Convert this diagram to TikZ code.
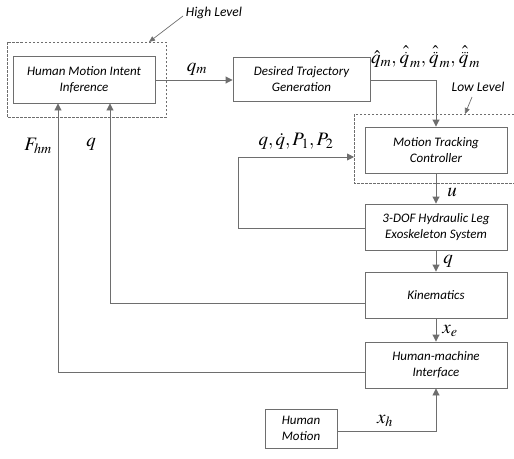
\documentclass[tikz,border=0pt]{standalone}
\usepackage{amsmath}
\usepackage{mathptmx}
\usepackage[no-math]{fontspec}
\setsansfont{Carlito}
\usetikzlibrary{arrows.meta}
\definecolor{linegray}{HTML}{6E6E6E}
\tikzset{
  block/.style={draw=linegray, line width=0.9pt, rectangle, inner sep=0pt,
    align=center, font=\sffamily\itshape\fontsize{13}{16}\selectfont},
  level/.style={draw=linegray, line width=0.7pt, dash pattern=on 2.5pt off 1.5pt},
  flow/.style={draw=linegray, line width=0.9pt, -{Triangle[length=7pt,width=7pt]}},
  mlabel/.style={inner sep=0pt, font=\fontsize{19}{22}\selectfont},
  tag/.style={inner sep=0pt, font=\sffamily\itshape\fontsize{13.5}{16}\selectfont},
}
% one small round dot
\newcommand{\tdot}{\tikz[baseline=0pt]\fill (0,0.65pt) circle (0.7pt);}
% q with a hat over a row of dots, stacked by hand
\newcommand{\hatdots}[1]{\mathord{\vbox{\offinterlineskip
  \halign{\hfil##\hfil\cr
    \hbox{\kern3pt$\hat{\phantom{x}}$}\cr
    \noalign{\kern-0.85ex}
    \hbox{\kern3pt#1}\cr
    \noalign{\kern1.6pt}
    $q$\cr}}}}
\begin{document}
\begin{tikzpicture}[x=1pt, y=-1pt]
\useasboundingbox (0,0) rectangle (514,458);

% blocks
\node[block, minimum width=142pt, minimum height=47pt] (hmii) at (84,79.5)
  {Human Motion Intent\\Inference};
\node[block, minimum width=137pt, minimum height=44pt] (dtg) at (301.5,79)
  {Desired Trajectory\\Generation};
\node[block, minimum width=142pt, minimum height=46pt] (mtc) at (436,150)
  {Motion Tracking\\Controller};
\node[block, minimum width=142pt, minimum height=46pt] (exo) at (436,227)
  {3-DOF Hydraulic Leg\\Exoskeleton System};
\node[block, minimum width=142pt, minimum height=46pt] (kin) at (436,295)
  {Kinematics};
\node[block, minimum width=142pt, minimum height=46pt] (hmi) at (436,365)
  {Human-machine\\Interface};
\node[block, minimum width=72pt, minimum height=39pt] (hm) at (301,428.5)
  {Human\\Motion};

% level frames
\draw[level] (7,42) rectangle (166,117);
\coordinate (highcorner) at (149,42);
\draw[level] (514,114) -- (354,114) -- (354,183) -- (514,183);
\coordinate (lowin) at (354,157);
\coordinate (lowcorner) at (465,114);

% level tags
\node[tag] (hightag) at (214,13) {High Level};
\node[tag] (lowtag) at (478,87) {Low Level};
\draw[flow, -{Triangle[length=6pt,width=5pt]}, line width=0.7pt] (183,16) -- (highcorner);
\draw[flow, -{Triangle[length=6pt,width=5pt]}, line width=0.7pt] (472,97) -- (lowcorner);

% forward path
\draw[flow] (hmii.east |- 0,80) -- (dtg.west |- 0,80);
\node[mlabel] (lqm) at (197,69) {$q_m$};
\draw[flow] (dtg.east |- 0,80) -| (mtc.north);
\node[mlabel, anchor=west] (lqd) at (371,57)
  {$\hat{q}_m,\hatdots{\tdot}_m,\hatdots{\tdot\kern1pt\tdot}_m,
    \hatdots{\tdot\kern1pt\tdot\kern1pt\tdot}_m$};
\draw[flow] (mtc.south) -- (exo.north);
\node[mlabel] (lu) at (452,192) {$u$};
\draw[flow] (exo.south) -- (kin.north);
\node[mlabel] (lq2) at (448,261) {$q$};
\draw[flow] (kin.south) -- (hmi.north);
\node[mlabel] (lxe) at (450,331) {$x_e$};

% state feedback to the controller
\coordinate (fbcorner) at (238,228);
\draw[flow] (exo.west |- fbcorner) -- (fbcorner) |- (lowin);
\node[mlabel] (lstate) at (296,141) {$q,\dot{q},P_1,P_2$};

% feedback to the intent inference
\coordinate (kinturn) at (110,303);
\draw[flow] (kin.west |- kinturn) -- (kinturn) -- (hmii.south -| kinturn);
\node[mlabel] (lq1) at (91,144) {$q$};
\coordinate (hmiturn) at (58,372);
\draw[flow] (hmi.west |- hmiturn) -- (hmiturn) -- (hmii.south -| hmiturn);
\node[mlabel] (lf) at (38,146) {$F_{hm}$};

% human motion input
\coordinate (hmturn) at (436,431);
\draw[flow] (hm.east |- hmturn) -- (hmturn) -- (hmi.south);
\node[mlabel] (lxh) at (385,421) {$x_h$};
\end{tikzpicture}
\end{document}
